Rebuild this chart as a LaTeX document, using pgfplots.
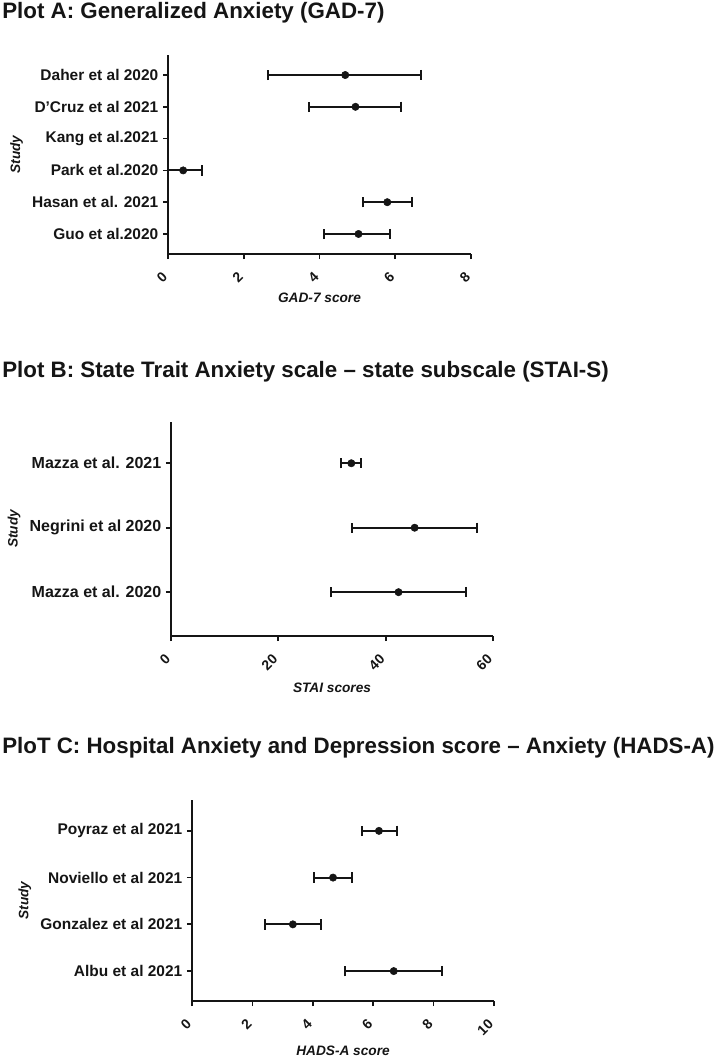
\documentclass[border=0pt]{standalone}
\usepackage{fontspec}
\setmainfont{Liberation Sans}
\usepackage{pgfplots}
\pgfplotsset{compat=1.18}
\definecolor{ink}{HTML}{151515}
\pgfplotsset{
  forest/.style={
    scale only axis,
    axis x line*=bottom, axis y line*=left,
    axis line style={line width=1.5pt, ink},
    every tick/.style={line width=1.3pt, ink},
    tick align=outside,
    major tick length=3.75pt,
    clip=false,
    /pgf/number format/assume math mode=true,
    yticklabel style={font=\bfseries\fontsize{11.6}{12}\selectfont, text=ink},
    xticklabel style={yshift=-9.5pt, rotate=45, anchor=east, font=\bfseries\fontsize{10.5}{11}\selectfont, text=ink},
    ylabel={Study},
    ylabel style={font=\bfseries\itshape\fontsize{10.25}{11}\selectfont, text=ink},
    every axis x label/.style={at={(axis description cs:0.5,0)}, anchor=center, font=\bfseries\itshape\fontsize{10.25}{11}\selectfont, text=ink},
  },
  fp/.style={color=ink, only marks, mark=*, mark size=2.75pt,
    mark options={fill=ink, draw=ink},
    error bars/.cd, x dir=both, x explicit,
    error bar style={line width=1.5pt, ink},
    error mark options={rotate=90, mark size=3.9pt, line width=1.5pt, ink}},
}
\begin{document}
\begin{tikzpicture}
\path[use as bounding box] (0pt,0pt) rectangle (535.5pt,-798pt);
\tikzset{ttl/.style={anchor=west, inner sep=0pt, text=ink, font=\bfseries\fontsize{16.75}{18}\selectfont}}
\node[ttl] at (1.5pt,-9.4pt) {Plot A: Generalized Anxiety (GAD-7)};
\node[ttl] at (1.5pt,-279pt) {Plot B: State Trait Anxiety scale – state subscale (STAI-S)};
\node[ttl] at (1.5pt,-561pt) {PloT C: Hospital Anxiety and Depression score – Anxiety (HADS-A)};

% Plot A
\begin{axis}[forest, at={(126pt,-190.5pt)}, anchor=origin,
  width=227.25pt, height=149.25pt,
  xmin=0, xmax=8, xtick={0,2,4,6,8},
  ymin=0.37, ymax=6.63, ytick={1,2,3,4,5,6},
  yticklabels={Guo et al.2020, Hasan et al. 2021, Park et al.2020, Kang et al.2021, D'Cruz et al 2021, Daher et al 2020},
  xlabel={GAD-7 score}, xlabel style={yshift=-33pt}]
\addplot[fp] coordinates {
  (4.68,6) += (2.01,0) -= (2.03,0)
  (4.95,5) += (1.19,0) -= (1.22,0)
  (0.40,3) += (0.50,0) -= (0.40,0)
  (5.79,2) += (0.64,0) -= (0.63,0)
  (5.03,1) += (0.84,0) -= (0.90,0)
};
\end{axis}

% Plot B
\begin{axis}[forest, at={(128.25pt,-477pt)}, anchor=origin,
  width=241.5pt, height=160.5pt,
  xmin=0, xmax=60, xtick={0,20,40,60},
  ymin=0.32, ymax=3.64, ytick={1,2,3},
  yticklabel style={font=\bfseries\fontsize{12}{13}\selectfont},
  yticklabels={Mazza et al. 2020, Negrini et al 2020, Mazza et al. 2021},
  xlabel={STAI scores}, xlabel style={yshift=-39pt}]
\addplot[fp] coordinates {
  (33.6,3) += (1.8,0) -= (1.9,0)
  (45.4,2) += (11.6,0) -= (11.6,0)
  (42.4,1) += (12.6,0) -= (12.6,0)
};
\end{axis}

% Plot C
\begin{axis}[forest, at={(144pt,-750.75pt)}, anchor=origin,
  width=226.5pt, height=150.75pt,
  xmin=0, xmax=10, xtick={0,2,4,6,8,10},
  ymin=0.36, ymax=4.66, ytick={1,2,3,4},
  yticklabels={Albu et al 2021, Gonzalez et al 2021, Noviello et al 2021, Poyraz et al 2021},
  xlabel={HADS-A score}, xlabel style={yshift=-37.5pt}]
\addplot[fp] coordinates {
  (6.19,4) += (0.59,0) -= (0.56,0)
  (4.67,3) += (0.62,0) -= (0.63,0)
  (3.34,2) += (0.93,0) -= (0.92,0)
  (6.68,1) += (1.60,0) -= (1.61,0)
};
\end{axis}
\end{tikzpicture}
\end{document}
